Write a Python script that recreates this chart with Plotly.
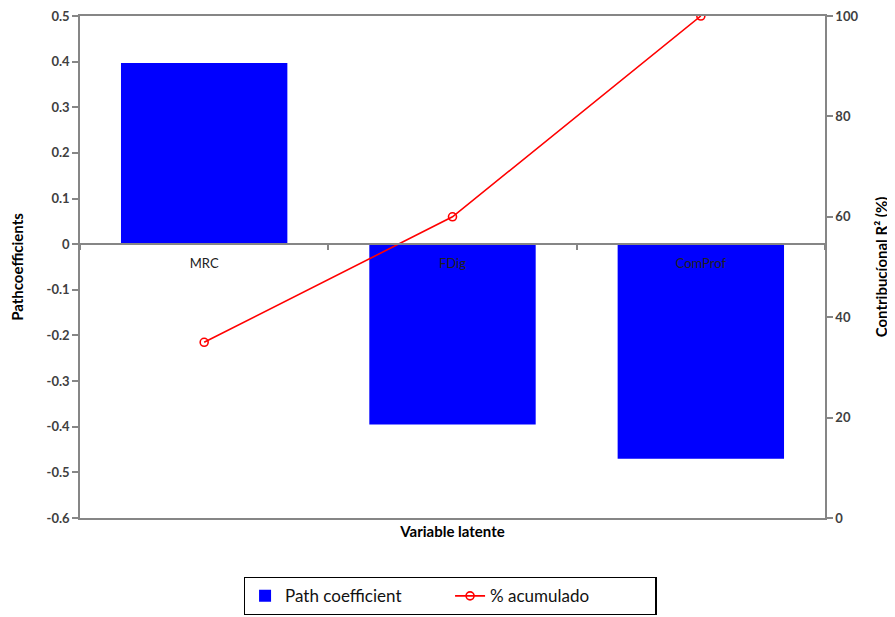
import plotly.graph_objects as go

categories = ["MRC", "FDig", "ComProf"]
path_coef = [0.397, -0.395, -0.47]
pct_acum = [35, 60, 100]

left_ticks = [0.5, 0.4, 0.3, 0.2, 0.1, 0, -0.1, -0.2, -0.3, -0.4, -0.5, -0.6]
left_text = ["0.5", "0.4", "0.3", "0.2", "0.1", "0", "-0.1", "-0.2", "-0.3", "-0.4", "-0.5", "-0.6"]
right_ticks = [0, 20, 40, 60, 80, 100]

FONT = "Lato"
AX = "#868686"
TXT = "#404040"

yrange = [-0.6, 0.5]
zero_pos = (0 - yrange[0]) / (yrange[1] - yrange[0])

fig = go.Figure()
fig.add_trace(go.Bar(
    x=categories, y=path_coef, name="Path coefficient",
    marker=dict(color="#0000FF", line=dict(width=0)),
    xaxis="x", yaxis="y",
))
fig.add_trace(go.Scatter(
    x=categories, y=pct_acum, name="% acumulado",
    mode="lines+markers",
    line=dict(color="#FF0000", width=1.6),
    marker=dict(symbol="circle-open", size=8, color="#FF0000", line=dict(width=1.6)),
    xaxis="x", yaxis="y2",
))
# empty helper trace so the frame axis (x2) is laid out
fig.add_trace(go.Scatter(x=[], y=[], xaxis="x2", yaxis="y", showlegend=False,
                         hoverinfo="skip"))

fig.update_layout(
    width=895, height=617,
    margin=dict(l=72, r=78, t=8, b=107, autoexpand=False),
    paper_bgcolor="white", plot_bgcolor="white",
    font=dict(family=FONT, color=TXT, size=13),
    bargap=0.33,
    showlegend=True,
    legend=dict(
        orientation="h", x=0.497, xanchor="center", y=-0.1175, yanchor="top",
        bordercolor="black", borderwidth=1.3,
        font=dict(family=FONT, size=17, color="#111111"),
        entrywidth=160,
    ),
    xaxis=dict(
        type="category", anchor="free", position=zero_pos, automargin=False,
        showline=True, linecolor=AX, linewidth=1.5,
        ticks="outside", ticklen=5, tickcolor=AX, tickwidth=1.5,
        tickson="boundaries", showgrid=False, zeroline=False,
        tickfont=dict(family=FONT, size=13, color="#202020"),
        ticklabelstandoff=7, ticklabeloverflow="allow",
    ),
    xaxis2=dict(
        overlaying="x", anchor="y", side="bottom", range=[0, 1], automargin=False,
        showline=True, mirror=True, linecolor=AX, linewidth=1.5,
        showticklabels=False, ticks="", showgrid=False, zeroline=False,
        title=dict(text="Variable latente", standoff=8,
                   font=dict(family=FONT, size=15, color="black", weight="bold")),
    ),
    yaxis=dict(
        range=yrange, tickvals=left_ticks, ticktext=left_text, automargin=False,
        showline=True, linecolor=AX, linewidth=1.5,
        ticks="outside", ticklen=6, tickcolor=AX, tickwidth=1.5,
        showgrid=False, zeroline=False, ticklabeloverflow="allow",
        tickfont=dict(family=FONT, size=13, color=TXT, weight="bold"),
        title=dict(text="Pathcoefficients", standoff=19,
                   font=dict(family=FONT, size=15, color="black", weight="bold")),
    ),
    yaxis2=dict(
        range=[0, 100], tickvals=right_ticks, overlaying="y", side="right", anchor="x",
        automargin=False,
        showline=True, linecolor=AX, linewidth=1.5,
        ticks="outside", ticklen=6, tickcolor=AX, tickwidth=1.5,
        showgrid=False, zeroline=False, ticklabeloverflow="allow",
        tickfont=dict(family=FONT, size=13, color=TXT, weight="bold"),
        title=dict(text="Contribucíonal R² (%)", standoff=19,
                   font=dict(family=FONT, size=15, color="black", weight="bold")),
    ),
)

fig.write_html("out.html")
